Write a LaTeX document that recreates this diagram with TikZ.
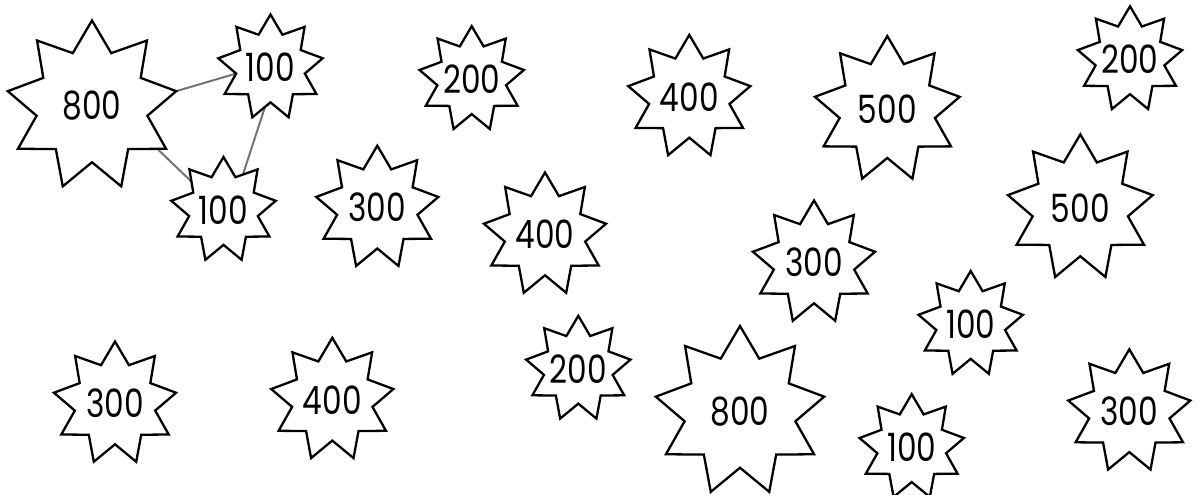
\documentclass[tikz,border=0pt]{standalone}
\usepackage{fontspec}
\setmainfont{Poppins}
\newfontfamily\numfont[FakeStretch=0.8]{Poppins}
\usetikzlibrary{shapes.geometric,calc}
\pgfdeclarelayer{background}
\pgfsetlayers{background,main}
\tikzset{
  burst/.style={shape=star, star points=9, star point ratio=1.52, draw=black,
    line width=2.3pt, fill=white, inner sep=0pt, outer sep=0pt, minimum size=#1},
  val/.style={font=\numfont\fontsize{39}{39}\selectfont, inner sep=0pt},
  link/.style={draw=black!55, line width=2pt},
}
\newcommand{\burstnode}[5]{%
  \node[burst=#4] (#1) at (#2,#3) {};
  \node[val] (#1t) at (#2,#3) {#5};
}
\begin{document}
\begin{tikzpicture}[x=1pt,y=-1pt]
\useasboundingbox (0,0) rectangle (1199,495);
% connected stars
\burstnode{a}{92}{106}{171}{800}
\burstnode{b}{270.5}{67.5}{106}{100}
\burstnode{c}{223.5}{210}{106}{100}
\begin{pgfonlayer}{background}
\draw[link] (a.outer point 8) -- (b.inner point 3);
\draw[link] ($(a.outer point 7)+(-12,-3)$) -- ($(c.outer point 2)+(6,16)$);
\draw[link] ($(b.inner point 5)+(-4,0)$) -- ($(c.center)+(16,-25)$);
\end{pgfonlayer}
% the others
\burstnode{d}{471.7}{79.2}{106}{200}
\burstnode{e}{377.3}{207.7}{124}{300}
\burstnode{f}{545}{234.5}{124}{400}
\burstnode{g}{689.3}{96.9}{124}{400}
\burstnode{h}{887.3}{109.6}{147}{500}
\burstnode{i}{814}{262.5}{124}{300}
\burstnode{j}{1130}{59.3}{106}{200}
\burstnode{k}{1080.3}{207.9}{147}{500}
\burstnode{l}{970.7}{324}{106}{100}
\burstnode{m}{115}{403.5}{124}{300}
\burstnode{n}{332.3}{399.8}{124}{400}
\burstnode{o}{578.3}{368.8}{106}{200}
\burstnode{p}{740}{411.5}{171}{800}
\burstnode{q}{911.7}{447.2}{106}{100}
\burstnode{r}{1129.3}{411.3}{124}{300}
\end{tikzpicture}
\end{document}
